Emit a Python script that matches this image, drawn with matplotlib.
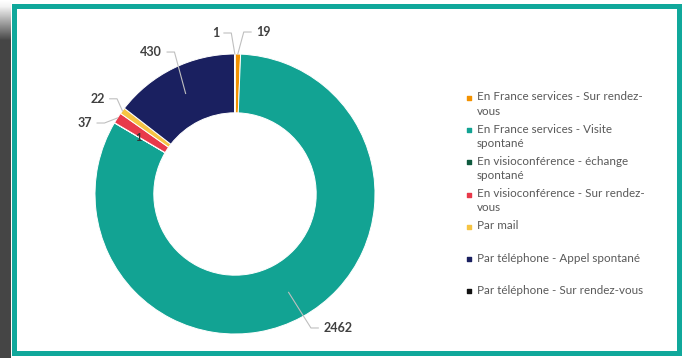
import matplotlib.pyplot as plt
import numpy as np
from matplotlib.patches import Rectangle

# Data (clockwise from 12 o'clock)
categories = ['En France services - Sur rendez-\nvous',
              'En France services - Visite\nspontané',
              'En visioconférence - échange\nspontané',
              'En visioconférence - Sur rendez-\nvous',
              'Par mail',
              'Par téléphone - Appel spontané',
              'Par téléphone - Sur rendez-vous']
values = [19, 2462, 1, 37, 22, 430, 1]
colors = ['#F39200', '#12A393', '#0E5A3E', '#E8394A', '#F6C443', '#1A2060', '#111111']

W, H = 687, 358
fig = plt.figure(figsize=(W / 100, H / 100), dpi=100)

# donut, 140 px per data unit, centre at pixel (235, 194)
ax = fig.add_axes([25 / W, 0, 420 / W, 328 / H])
wedges, _ = ax.pie(values, colors=colors, startangle=90, counterclock=False, radius=1,
                   wedgeprops=dict(width=0.42, edgecolor='white', linewidth=0.7))
ax.set_xlim(-1.5, 1.5)
ax.set_ylim(-164 / 140, 164 / 140)
ax.axis('off')

# label edge positions (data units), anchor radius, side of text
label_pos = [(0.15, 1.157, 1.0, 'left'),
             (0.63, -0.957, 0.8, 'left'),
             (None, None, 0.8, 'center'),
             (-1.02, 0.507, 1.0, 'right'),
             (-0.93, 0.68, 1.0, 'right'),
             (-0.52, 1.014, 0.8, 'right'),
             (-0.114, 1.15, 1.0, 'right')]

for w, v, (tx, ty, r, ha) in zip(wedges, values, label_pos):
    ang = np.deg2rad((w.theta1 + w.theta2) / 2)
    axx, axy = r * np.cos(ang), r * np.sin(ang)
    if tx is None:
        ax.text(axx, axy, str(v), ha='center', va='center', fontsize=8,
                fontweight='bold', color='#333333', family='Lato')
        continue
    ax.text(tx, ty, str(v), ha=ha, va='center', fontsize=9, fontweight='bold',
            color='#404040', family='Lato')
    step = 0.035 if ha == 'right' else -0.035
    ax.plot([tx + step, tx + 2.5 * step, axx], [ty, ty, axy], color='#BFBFBF', lw=0.8,
            clip_on=False)

# overlay in pixel coordinates: legend, frame, shadow
lax = fig.add_axes([0, 0, 1, 1])
grad = np.interp(np.arange(H), [0, 6, 40, H], [1.0, 0.95, 0.27, 0.27]).reshape(-1, 1)
lax.imshow(grad, cmap='gray', vmin=0, vmax=1, extent=[0, 11, H, 0], aspect='auto')
lax.add_patch(Rectangle((13.5, 5.5), 665, 347, fill=False, edgecolor='#10A89B',
                        linewidth=3.6, clip_on=False))

for i, (lab, col) in enumerate(zip(categories, colors)):
    y = 98 + 32.2 * i
    lax.scatter([469], [y], marker='s', s=9, color=col)
    lax.text(477, y - 6.5, lab, ha='left', va='top', fontsize=8.4, color='#595959',
             family='Lato', linespacing=1.35)

lax.set_xlim(0, W)
lax.set_ylim(H, 0)
lax.axis('off')

fig.savefig('out.png', dpi=100, facecolor='white')
